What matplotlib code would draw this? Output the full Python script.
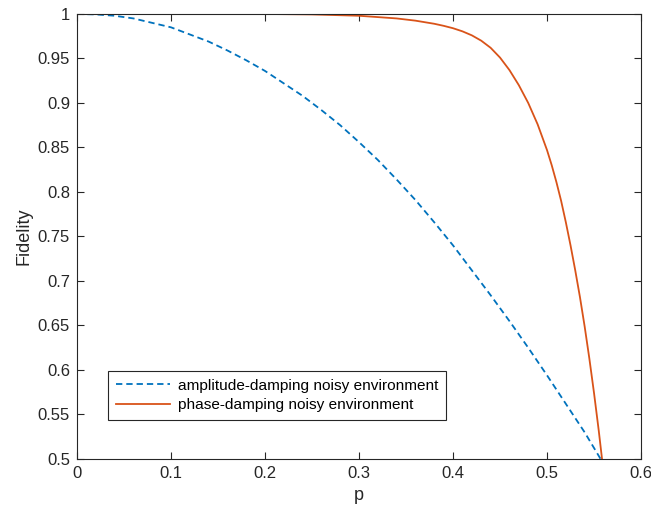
import matplotlib
matplotlib.use("Agg")
from matplotlib import pyplot as plt

# amplitude-damping curve
p_amp = [0, 0.02, 0.04, 0.06, 0.08, 0.10, 0.12, 0.14, 0.16, 0.18, 0.20, 0.22, 0.24,
         0.26, 0.28, 0.30, 0.32, 0.34, 0.36, 0.38, 0.40, 0.42, 0.44, 0.46, 0.48,
         0.50, 0.52, 0.54, 0.557]
f_amp = [1.000, 0.9995, 0.998, 0.995, 0.990, 0.985, 0.977, 0.969, 0.959, 0.948,
         0.936, 0.922, 0.908, 0.892, 0.875, 0.856, 0.836, 0.814, 0.791, 0.766,
         0.740, 0.712, 0.684, 0.655, 0.625, 0.594, 0.562, 0.530, 0.500]

# phase-damping curve
p_phase = [0, 0.10, 0.20, 0.25, 0.30, 0.34, 0.36, 0.38, 0.39, 0.40, 0.41, 0.42,
           0.43, 0.44, 0.45, 0.46, 0.47, 0.48, 0.49, 0.50, 0.505, 0.51, 0.515,
           0.52, 0.525, 0.53, 0.535, 0.54, 0.545, 0.55, 0.555, 0.5585]
f_phase = [1.0, 1.0, 1.0, 0.9995, 0.998, 0.995, 0.9925, 0.989, 0.9867, 0.984,
           0.9805, 0.976, 0.970, 0.962, 0.951, 0.937, 0.920, 0.900, 0.876, 0.847,
           0.830, 0.811, 0.790, 0.766, 0.740, 0.712, 0.682, 0.649, 0.613, 0.574,
           0.532, 0.500]

xticks = [0, 0.1, 0.2, 0.3, 0.4, 0.5, 0.6]
yticks = [0.5, 0.55, 0.6, 0.65, 0.7, 0.75, 0.8, 0.85, 0.9, 0.95, 1]
xtick_labels = ["0", "0.1", "0.2", "0.3", "0.4", "0.5", "0.6"]
ytick_labels = ["0.5", "0.55", "0.6", "0.65", "0.7", "0.75", "0.8", "0.85", "0.9", "0.95", "1"]

plt.rcParams['font.family'] = ['Liberation Sans', 'DejaVu Sans']
axcol = '#262626'

fig = plt.figure(figsize=(6.51, 5.14), dpi=100)
ax = fig.add_axes([0.1183, 0.107, 0.8664, 0.8658])

ax.plot(p_amp, f_amp, color='#0072BD', linestyle=(0, (3.5, 2.2)), linewidth=1.3,
        label='amplitude-damping noisy environment')
ax.plot(p_phase, f_phase, color='#D95319', linewidth=1.3,
        label='phase-damping noisy environment')

ax.set_xlim(0, 0.6)
ax.set_ylim(0.5, 1)
ax.set_xticks(xticks)
ax.set_xticklabels(xtick_labels)
ax.set_yticks(yticks)
ax.set_yticklabels(ytick_labels)
ax.tick_params(direction='in', length=5, width=0.8, top=True, right=True,
               labelsize=12, colors=axcol, pad=5)
for s in ax.spines.values():
    s.set_color(axcol)
    s.set_linewidth(0.8)
ax.set_xlabel('p', fontsize=13, color=axcol)
ax.set_ylabel('Fidelity', fontsize=13, color=axcol)

leg = ax.legend(loc='lower left', bbox_to_anchor=(0.055, 0.088), borderaxespad=0,
                fontsize=11.1, fancybox=False, edgecolor=axcol, framealpha=1,
                handlelength=3.5, handletextpad=0.55, borderpad=0.5,
                labelspacing=0.35)
leg.get_frame().set_linewidth(0.8)

fig.savefig('out.png', dpi=100)
